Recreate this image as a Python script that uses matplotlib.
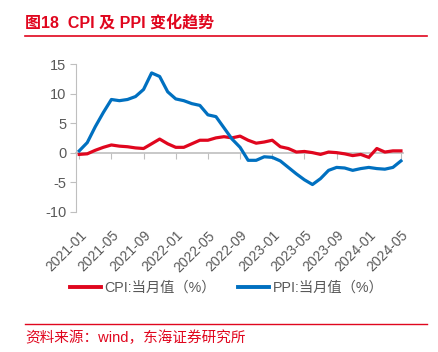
import matplotlib
matplotlib.use('Agg')
import matplotlib.pyplot as plt
from matplotlib.lines import Line2D

plt.rcParams['font.family'] = ['Liberation Sans', 'Noto Sans CJK SC']

# monthly data 2021-01 .. 2024-05
months = ['%d-%02d' % (y, m) for y in range(2021, 2025) for m in range(1, 13)][:41]
cpi = [-0.3, -0.2, 0.4, 0.9, 1.3, 1.1, 1.0, 0.8, 0.7, 1.5, 2.3, 1.5,
       0.9, 0.9, 1.5, 2.1, 2.1, 2.5, 2.7, 2.5, 2.8, 2.1, 1.6, 1.8,
       2.1, 1.0, 0.7, 0.1, 0.2, 0.0, -0.3, 0.1, 0.0, -0.2, -0.5, -0.3,
       -0.8, 0.7, 0.1, 0.3, 0.3]
ppi = [0.3, 1.7, 4.4, 6.8, 9.0, 8.8, 9.0, 9.5, 10.7, 13.5, 12.9, 10.3,
       9.1, 8.8, 8.3, 8.0, 6.4, 6.1, 4.2, 2.3, 0.9, -1.3, -1.3, -0.7,
       -0.8, -1.4, -2.5, -3.6, -4.6, -5.4, -4.4, -3.0, -2.5, -2.6, -3.0, -2.7,
       -2.5, -2.7, -2.8, -2.5, -1.4]
yticks = [-10, -5, 0, 5, 10, 15]

red = '#E0061E'
blue = '#0070C0'
grey = '#595959'
axis_grey = '#BFBFBF'

fig = plt.figure(figsize=(4.38, 3.52), dpi=100)
ax = fig.add_axes([0.1735, 0.3986, 0.7465, 0.4194])

x = list(range(len(months)))
ax.plot(x, cpi, color=red, lw=2.3, solid_joinstyle='round')
ax.plot(x, ppi, color=blue, lw=2.3, solid_joinstyle='round')

ax.set_xlim(-0.4, 40.25)
ax.set_ylim(-10, 15)
ax.set_yticks(yticks)
ax.set_yticklabels([str(v) for v in yticks])

for s in ['top', 'right', 'bottom']:
    ax.spines[s].set_visible(False)
ax.spines['left'].set_color(axis_grey)
ax.tick_params(axis='y', colors=axis_grey, labelcolor=grey, labelsize=10.5,
               direction='out', length=4, pad=3)

xt = x[::4]
ax.set_xticks(xt)
ax.set_xticklabels([months[i] for i in xt], rotation=45, ha='right',
                   rotation_mode='anchor', color=grey, fontsize=10)
ax.tick_params(axis='x', length=0, pad=12)

# zero line with ticks
sec = ax.secondary_xaxis(0.4)
sec.set_xticks(xt)
sec.tick_params(axis='x', labelbottom=False, direction='out', length=4,
                color=axis_grey)
sec.spines['bottom'].set_color(axis_grey)
sec.spines['bottom'].set_linewidth(1.2)

handles = [Line2D([], [], color=red, lw=2.8), Line2D([], [], color=blue, lw=2.8)]
fig.legend(handles, ['CPI:当月值（%）', 'PPI:当月值（%）'],
           loc='center', bbox_to_anchor=(0.517, 1 - 288 / 352), ncol=2,
           frameon=False, fontsize=10.3, handlelength=2.2, handletextpad=0.25,
           columnspacing=1.5, labelcolor=grey)

# title and footer
fig.text(25 / 438, 1 - 23 / 352, '图18  CPI 及 PPI 变化趋势', color=red,
         fontsize=11.5, fontweight='bold', va='center', ha='left')
fig.add_artist(Line2D([25 / 438, 427 / 438], [1 - 35.7 / 352] * 2,
                      color=red, lw=1.2))
fig.add_artist(Line2D([25 / 438, 427 / 438], [1 - 324 / 352] * 2,
                      color=red, lw=1.0))
fig.text(25 / 438, 1 - 338 / 352, '资料来源：wind，东海证券研究所', color=red,
         fontsize=10.5, va='center', ha='left')

fig.savefig('out.png', dpi=100)
